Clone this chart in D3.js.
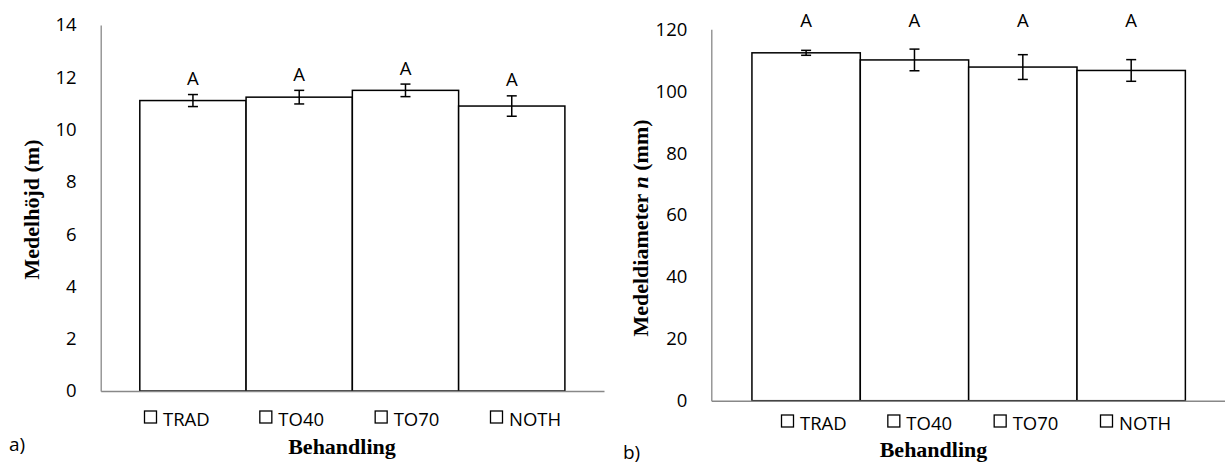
<!DOCTYPE html>
<html>
<head>
<meta charset="utf-8">
<script src="https://cdn.jsdelivr.net/npm/d3@7"></script>
<style>
  body { margin: 0; background: #fff; }
  text { font-family: 'Open Sans', sans-serif; fill: #000; }
  .serif { font-family: 'Liberation Serif', 'Times New Roman', serif; font-weight: bold; }
</style>
</head>
<body>
<svg width="1225" height="466"></svg>
<script>
// data
var categories = ['TRAD', 'TO40', 'TO70', 'NOTH'];
var heightMeans = [11.11, 11.24, 11.50, 10.90];
var heightErr = [0.23, 0.26, 0.24, 0.39];
var heightLetters = ['A', 'A', 'A', 'A'];
var diamMeans = [112.4, 110.1, 107.8, 106.7];
var diamErr = [0.8, 3.5, 4.0, 3.5];
var diamLetters = ['A', 'A', 'A', 'A'];
var heightTicks = [0, 2, 4, 6, 8, 10, 12, 14];
var diamTicks = [0, 20, 40, 60, 80, 100, 120];

var svg = d3.select('svg');

function drawChart(cfg) {
    var data = categories.map(function(c, i) {
        return {cat: c, mean: cfg.means[i], err: cfg.errs[i], letter: cfg.letters[i]};
    });

    var x = d3.scaleBand().domain(categories)
        .range([cfg.left, cfg.right])
        .paddingInner(0).paddingOuter(cfg.outer);
    var y = d3.scaleLinear().domain([0, d3.max(cfg.ticks)])
        .range([cfg.bottom, cfg.top]);

    var g = svg.append('g');

    // y axis
    var yAxis = g.append('g')
        .attr('transform', 'translate(' + cfg.left + ',0)')
        .call(d3.axisLeft(y).tickValues(cfg.ticks).tickSize(0).tickPadding(24).tickFormat(d3.format('d')));
    yAxis.select('.domain').attr('stroke', '#888').attr('stroke-width', 1.3);
    yAxis.selectAll('text').style('font-size', '18.5px').style('font-family', "'Open Sans', sans-serif").attr('fill', '#000');

    // bars
    g.selectAll('rect.bar')
        .data(data)
        .enter()
        .append('rect')
        .attr('class', 'bar')
        .attr('x', function(d) { return x(d.cat); })
        .attr('width', x.bandwidth())
        .attr('y', function(d) { return y(d.mean); })
        .attr('height', function(d) { return y(0) - y(d.mean); })
        .attr('fill', '#fff')
        .attr('stroke', '#000')
        .attr('stroke-width', 1.5);

    // baseline
    var xAxis = g.append('g')
        .attr('transform', 'translate(0,' + cfg.bottom + ')')
        .call(d3.axisBottom(x).tickSize(0).tickFormat(''));
    xAxis.select('.domain').attr('stroke', '#888').attr('stroke-width', 1.5);

    // error bars
    var eb = g.selectAll('g.err')
        .data(data)
        .enter()
        .append('g')
        .attr('class', 'err')
        .attr('stroke', '#000')
        .attr('stroke-width', 1.5);
    var cx = function(d) { return x(d.cat) + x.bandwidth() / 2; };
    eb.append('line')
        .attr('x1', cx).attr('x2', cx)
        .attr('y1', function(d) { return y(d.mean + d.err); })
        .attr('y2', function(d) { return y(d.mean - d.err); });
    eb.append('line')
        .attr('x1', function(d) { return cx(d) - 5; }).attr('x2', function(d) { return cx(d) + 5; })
        .attr('y1', function(d) { return y(d.mean + d.err); })
        .attr('y2', function(d) { return y(d.mean + d.err); });
    eb.append('line')
        .attr('x1', function(d) { return cx(d) - 5; }).attr('x2', function(d) { return cx(d) + 5; })
        .attr('y1', function(d) { return y(d.mean - d.err); })
        .attr('y2', function(d) { return y(d.mean - d.err); });

    // letters
    g.selectAll('text.letter')
        .data(data)
        .enter()
        .append('text')
        .attr('class', 'letter')
        .attr('x', cx)
        .attr('y', function(d) { return cfg.letterY != null ? cfg.letterY : y(d.mean + d.err) - 9.5; })
        .attr('text-anchor', 'middle')
        .style('font-size', '18.5px')
        .text(function(d) { return d.letter; });

    // legend
    var lx = d3.scalePoint().domain(categories).range(cfg.legendRange);
    var leg = g.selectAll('g.leg')
        .data(categories)
        .enter()
        .append('g')
        .attr('class', 'leg')
        .attr('transform', function(d) { return 'translate(' + lx(d) + ',' + cfg.legendY + ')'; });
    leg.append('rect')
        .attr('x', 0.5).attr('y', -15)
        .attr('width', 12).attr('height', 12)
        .attr('fill', '#fff').attr('stroke', '#000').attr('stroke-width', 1.3);
    leg.append('text')
        .attr('x', 19).attr('y', 0)
        .style('font-size', '18.5px')
        .text(function(d) { return d; });

    // axis titles
    g.append('text')
        .attr('class', 'serif')
        .attr('x', cfg.xTitleX).attr('y', cfg.xTitleY)
        .attr('text-anchor', 'middle')
        .style('font-size', '22px')
        .text('Behandling');

    var yt = g.append('text')
        .attr('class', 'serif')
        .attr('transform', 'translate(' + cfg.yTitleX + ',' + cfg.yTitleY + ') rotate(-90)')
        .attr('text-anchor', 'middle')
        .attr('dy', '0.35em')
        .style('font-size', '22px');
    cfg.yTitle.forEach(function(p) {
        yt.append('tspan').style('font-style', p.italic ? 'italic' : null).text(p.t);
    });

    g.append('text')
        .attr('x', cfg.panelX).attr('y', cfg.panelY)
        .style('font-size', '19px')
        .text(cfg.panel);
}

drawChart({
    means: heightMeans, errs: heightErr, letters: heightLetters, ticks: heightTicks,
    left: 100.7, right: 604, outer: 0.368, top: 25, bottom: 391,
    legendRange: [144, 490], legendY: 426,
    xTitleX: 342, xTitleY: 454,
    yTitleX: 31, yTitleY: 209.5,
    yTitle: [{t: 'Medelhöjd (m)'}],
    panel: 'a)', panelX: 9, panelY: 451
});

drawChart({
    means: diamMeans, errs: diamErr, letters: diamLetters, ticks: diamTicks,
    left: 711.3, right: 1226, outer: 0.375, top: 29.3, bottom: 400.7,
    letterY: 26.5,
    legendRange: [781, 1100], legendY: 430,
    xTitleX: 933.5, xTitleY: 457,
    yTitleX: 640, yTitleY: 228,
    yTitle: [{t: 'Medeldiameter '}, {t: 'n', italic: true}, {t: '  (mm)'}],
    panel: 'b)', panelX: 623, panelY: 459
});
</script>
</body>
</html>
